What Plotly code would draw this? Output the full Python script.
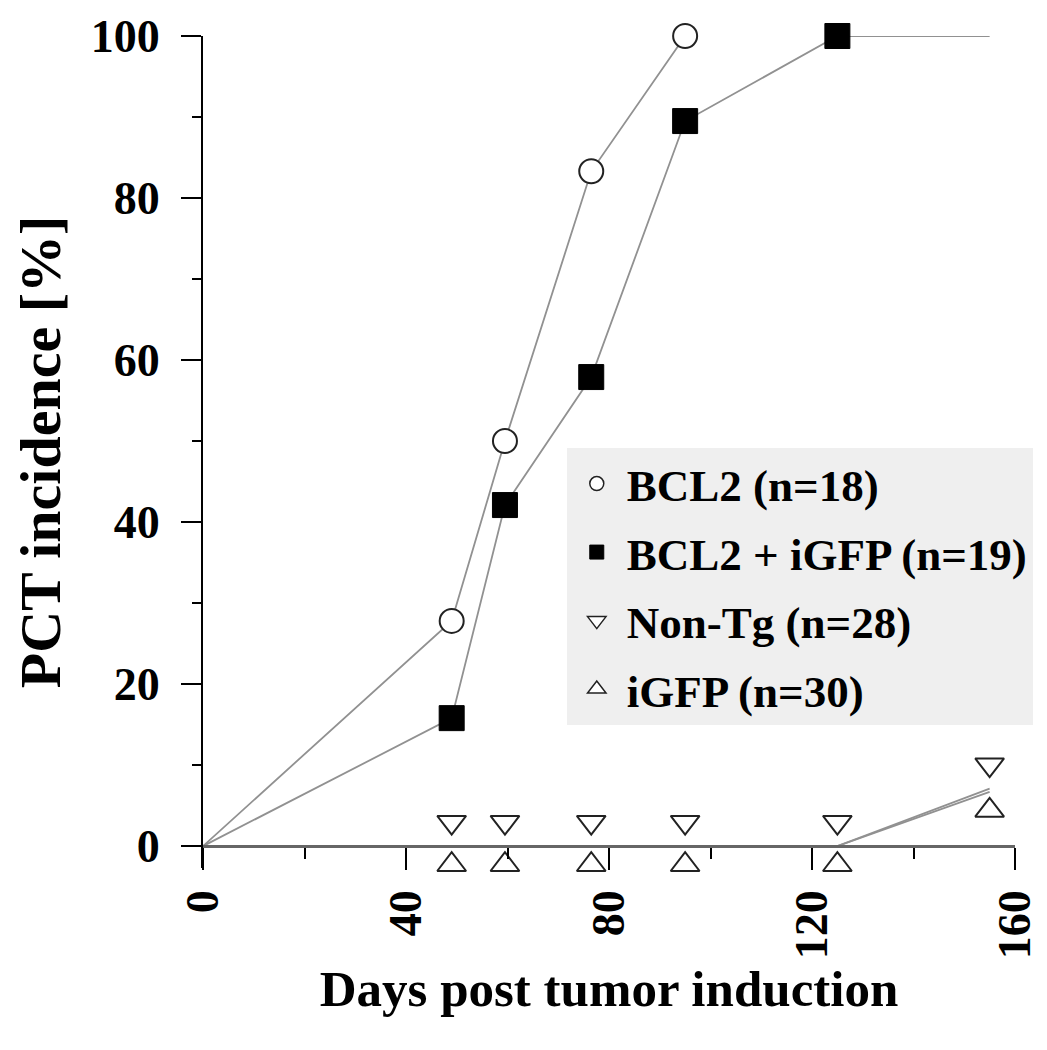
import plotly.graph_objects as go

# ---- data ----
days = [0, 49, 59.5, 76.5, 95, 125, 155]
bcl2_days = [0, 49, 59.5, 76.5, 95]
bcl2 = [0, 27.8, 50.0, 83.3, 100.0]
bcl2_igfp = [0, 15.8, 42.1, 57.9, 89.5, 100.0, 100.0]
nontg = [0, 0, 0, 0, 0, 0, 7.1]
igfp = [0, 0, 0, 0, 0, 0, 6.7]
x_ticks = [0, 40, 80, 120, 160]
y_ticks = [0, 20, 40, 60, 80, 100]

labels = ["BCL2 (n=18)", "BCL2 + iGFP (n=19)", "Non-Tg (n=28)", "iGFP (n=30)"]

FONT = "Liberation Serif"
LINE = "#919191"
# visual offsets (in % units) so the overlapping triangles sit above / below the value
DOWN_OFF = 2.95
UP_OFF = -2.3
Y_LOW = -2.7  # lower y-range padding so the lower triangles are drawn

fig = go.Figure()

# lines
for yy, xx in [(igfp, days), (nontg, days), (bcl2, bcl2_days), (bcl2_igfp, days)]:
    fig.add_trace(go.Scatter(x=xx, y=yy, mode="lines", line=dict(color=LINE, width=1.8),
                             showlegend=False, hoverinfo="skip", cliponaxis=False))

# markers (skip day 0; BCL2+iGFP last point is line-only)
fig.add_trace(go.Scatter(x=bcl2_days[1:], y=bcl2[1:], mode="markers",
                         marker=dict(symbol="circle", size=24, color="white",
                                     line=dict(color="#222", width=2)),
                         showlegend=False, cliponaxis=False))
fig.add_trace(go.Scatter(x=days[1:-1], y=bcl2_igfp[1:-1], mode="markers",
                         marker=dict(symbol="square", size=25, color="black",
                                     line=dict(color="black", width=1)),
                         showlegend=False, cliponaxis=False))
fig.add_trace(go.Scatter(x=days[1:], y=[v + DOWN_OFF for v in nontg[1:]], mode="markers",
                         marker=dict(symbol="triangle-down", size=25, color="white",
                                     line=dict(color="#222", width=2)),
                         showlegend=False, cliponaxis=False))
fig.add_trace(go.Scatter(x=days[1:], y=[v + UP_OFF for v in igfp[1:]], mode="markers",
                         marker=dict(symbol="triangle-up", size=25, color="white",
                                     line=dict(color="#222", width=2)),
                         showlegend=False, cliponaxis=False))

# legend entries
leg_styles = [
    dict(symbol="circle", size=14, color="white", line=dict(color="#222", width=1.5)),
    dict(symbol="square", size=14, color="black", line=dict(color="black", width=1)),
    dict(symbol="triangle-down", size=16, color="white", line=dict(color="#222", width=1.5)),
    dict(symbol="triangle-up", size=16, color="white", line=dict(color="#222", width=1.5)),
]
for i, (lab, st) in enumerate(zip(labels, leg_styles)):
    fig.add_trace(go.Scatter(x=[None], y=[None], mode="markers", marker=st, name=lab,
                             legendgroup=f"g{i}", showlegend=True))

axis_font = dict(family=FONT, size=46, color="black", weight="bold")

fig.update_layout(
    width=1039, height=1042,
    margin=dict(l=195, r=32, t=28, b=182),
    plot_bgcolor="white", paper_bgcolor="white",
    showlegend=True,
    legend=dict(x=0.448, y=0.505, xanchor="left", yanchor="top",
                bgcolor="#efefef", borderwidth=0,
                font=dict(family=FONT, size=45, color="black", weight="bold"),
                traceorder="grouped", tracegroupgap=7,
                itemwidth=50),
    xaxis=dict(range=[0, 160], tickvals=x_ticks, ticktext=[str(v) for v in x_ticks],
               anchor="free", position=-Y_LOW / (100 - Y_LOW), automargin=False,
               ticks="outside", ticklen=22, tickwidth=2, tickcolor="black",
               tickangle=-90, tickfont=axis_font, ticklabelstandoff=2,
               minor=dict(dtick=20, tick0=0, ticks="outside", ticklen=11, tickwidth=2, tickcolor="black"),
               showline=True, linecolor="#666", linewidth=2.5, showgrid=False, zeroline=False,
               title=dict(text="Days post tumor induction",
                          font=dict(family=FONT, size=51, color="black", weight="bold"),
                          standoff=12)),
    yaxis=dict(range=[Y_LOW, 100], tickvals=y_ticks, ticktext=[str(v) for v in y_ticks],
               automargin=False,
               ticks="outside", ticklen=20, tickwidth=2, tickcolor="black",
               tickfont=axis_font, ticklabelstandoff=12,
               minor=dict(dtick=10, tick0=0, ticks="outside", ticklen=9, tickwidth=2, tickcolor="black"),
               showline=True, linecolor="black", linewidth=2, showgrid=False, zeroline=False,
               title=dict(text="PCT incidence [%]",
                          font=dict(family=FONT, size=58, color="black", weight="bold"),
                          standoff=31)),
)

fig.write_html("out.html")
